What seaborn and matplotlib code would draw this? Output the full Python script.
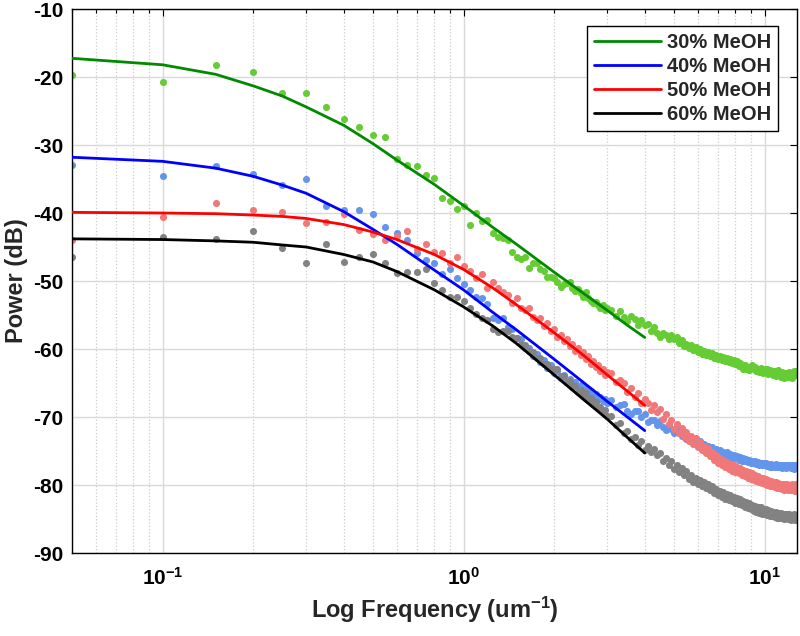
"""
Power spectra of MeOH mixtures: measured points with their fitted curves.
"""
import numpy as np
import matplotlib
matplotlib.use("Agg")
import matplotlib.pyplot as plt
from matplotlib.ticker import LogLocator, NullFormatter, MultipleLocator
import seaborn as sns

SERIES = ["30% MeOH", "40% MeOH", "50% MeOH", "60% MeOH"]
LINE_COLORS = ["#008a00", "#0000ff", "#ff0000", "#000000"]
DOT_COLORS = ["#66cc33", "#6495ed", "#f07878", "#828282"]

# frequency bins (um^-1 = bin * 0.05): every bin up to 60, then every other one
FREQ_STEP = 0.05
BINS = list(range(1, 61)) + list(range(62, 257, 2))

POWER_30 = [
    -19.7, -20.8, -18.2, -19.2, -22.3, -22.4, -24.4, -26.1, -27.3, -28.5,
    -28.8, -32.0, -33.0, -33.1, -34.4, -34.8, -37.8, -38.3, -39.4, -38.9,
    -41.7, -40.0, -41.2, -41.1, -43.0, -43.6, -43.7, -44.0, -45.8, -46.4,
    -46.7, -46.4, -48.1, -47.3, -47.4, -48.2, -48.6, -49.4, -49.4, -49.6,
    -50.2, -50.9, -50.5, -50.3, -50.1, -51.0, -51.4, -51.2, -51.8, -52.4,
    -51.6, -52.5, -52.9, -53.3, -53.1, -53.6, -53.9, -53.5, -54.2, -54.0,
    -54.3, -55.1, -54.4, -55.3, -55.9, -55.2, -55.6, -56.4, -55.8, -56.5,
    -56.3, -57.3, -56.8, -57.7, -58.3, -57.6, -57.9, -58.5, -57.9, -58.6,
    -58.2, -59.1, -58.7, -59.5, -59.2, -59.9, -59.4, -60.2, -59.7, -60.5,
    -60.0, -60.8, -60.3, -60.9, -60.4, -61.1, -60.6, -61.3, -60.9, -61.5,
    -61.0, -61.6, -61.2, -61.8, -61.3, -61.9, -61.5, -62.1, -61.6, -62.2,
    -61.8, -62.5, -62.0, -62.6, -62.9, -62.4, -63.0, -62.6, -63.1, -62.8,
    -62.4, -63.0, -62.6, -63.2, -62.9, -63.4, -62.8, -63.3, -63.5, -62.9,
    -63.4, -63.0, -63.7, -63.1, -63.6, -63.2, -63.8, -63.3, -63.9, -63.5,
    -63.1, -63.7, -64.1, -63.4, -63.8, -64.2, -63.5, -64.0, -63.6, -64.1,
    -63.4, -63.9, -64.3, -63.6, -63.2, -63.8, -63.3, -63.7,
]
POWER_40 = [
    -33.0, -34.6, -33.1, -34.2, -35.9, -35.0, -38.9, -39.6, -39.5, -40.1,
    -42.0, -43.0, -44.0, -45.9, -46.9, -47.4, -48.9, -48.3, -49.6, -50.4,
    -51.3, -52.4, -52.5, -53.4, -55.5, -55.7, -55.5, -56.7, -57.0, -58.4,
    -58.6, -59.9, -59.8, -61.1, -60.8, -61.9, -61.6, -62.8, -62.4, -63.6,
    -63.2, -64.3, -63.8, -64.9, -64.4, -65.3, -64.9, -65.8, -65.3, -66.2,
    -65.8, -66.6, -66.2, -67.0, -66.6, -67.4, -67.0, -67.7, -67.3, -68.0,
    -67.5, -68.5, -68.2, -68.1, -69.1, -69.6, -69.1, -69.1, -70.0, -69.5,
    -70.7, -70.4, -70.4, -71.2, -70.6, -71.4, -71.9, -71.3, -71.7, -72.4,
    -71.8, -72.4, -72.8, -72.4, -73.3, -72.9, -73.0, -73.7, -73.2, -73.9,
    -73.6, -74.3, -73.9, -74.5, -74.2, -74.8, -74.4, -75.0, -74.7, -75.3,
    -74.9, -75.5, -75.1, -75.6, -75.2, -75.8, -75.5, -76.0, -75.6, -76.1,
    -75.8, -76.3, -75.9, -76.4, -76.0, -76.5, -76.2, -76.6, -76.3, -76.7,
    -76.4, -76.8, -76.5, -76.9, -76.6, -77.0, -76.7, -77.1, -76.7, -77.1,
    -76.8, -77.2, -76.9, -77.3, -76.9, -77.3, -77.0, -77.4, -76.9, -77.3,
    -77.0, -77.4, -77.1, -77.5, -77.0, -77.4, -77.1, -77.5, -77.0, -77.4,
    -77.1, -77.5, -77.0, -77.3, -77.6, -77.1, -77.4, -77.0,
]
POWER_50 = [
    -43.9, -40.6, -38.5, -39.6, -39.8, -41.5, -41.3, -40.1, -42.5, -43.1,
    -44.0, -43.4, -42.7, -45.3, -44.6, -45.8, -45.9, -47.3, -46.5, -47.8,
    -48.5, -49.5, -48.9, -51.0, -50.1, -51.0, -51.6, -52.1, -53.2, -52.5,
    -53.9, -54.3, -54.0, -55.3, -55.7, -55.4, -56.6, -56.2, -57.4, -57.0,
    -58.3, -57.9, -58.8, -58.5, -59.6, -59.2, -60.3, -59.8, -60.9, -60.5,
    -61.4, -61.0, -62.2, -61.8, -62.6, -62.3, -63.3, -62.9, -63.8, -63.4,
    -63.6, -64.9, -64.5, -65.0, -66.3, -65.7, -67.0, -66.4, -67.9, -67.3,
    -68.0, -68.9, -68.2, -69.3, -68.8, -70.3, -69.6, -71.0, -70.4, -71.7,
    -71.0, -72.3, -71.6, -72.9, -72.2, -73.6, -72.8, -74.0, -73.1, -74.4,
    -73.7, -74.9, -74.2, -75.3, -74.6, -75.8, -75.1, -76.3, -75.6, -76.7,
    -76.0, -77.0, -76.3, -77.3, -76.6, -77.6, -76.9, -77.9, -77.1, -78.1,
    -77.3, -78.3, -77.5, -78.5, -77.8, -78.7, -77.9, -78.9, -78.1, -79.1,
    -78.3, -79.3, -78.5, -79.4, -78.7, -79.6, -78.9, -79.7, -79.0, -79.8,
    -79.1, -80.0, -79.3, -80.1, -79.4, -80.2, -79.5, -80.3, -79.5, -80.4,
    -79.7, -80.5, -79.8, -80.6, -79.8, -80.7, -79.9, -80.6, -79.8, -80.8,
    -80.0, -80.7, -79.9, -80.8, -80.1, -80.9, -79.9, -80.6,
]
POWER_60 = [
    -46.5, -43.5, -43.8, -42.6, -45.1, -47.3, -44.6, -47.2, -46.5, -46.0,
    -47.4, -48.8, -48.7, -48.7, -48.3, -50.3, -51.3, -52.4, -52.3, -52.9,
    -54.0, -54.9, -55.5, -55.7, -57.0, -57.5, -57.3, -57.4, -58.3, -58.4,
    -59.2, -59.4, -60.3, -60.4, -61.3, -61.3, -62.2, -62.2, -63.0, -62.9,
    -63.0, -63.9, -64.0, -64.9, -64.7, -65.6, -65.4, -66.3, -66.0, -66.9,
    -66.5, -67.5, -67.2, -68.1, -67.8, -68.7, -68.5, -69.3, -68.9, -69.8,
    -69.9, -71.2, -70.9, -72.3, -72.0, -73.3, -72.9, -74.1, -73.6, -74.8,
    -74.3, -75.2, -74.7, -75.6, -75.3, -76.4, -76.0, -77.0, -76.5, -77.6,
    -77.0, -78.1, -77.5, -78.6, -78.0, -79.1, -78.5, -79.5, -78.9, -79.9,
    -79.2, -80.2, -79.5, -80.5, -79.8, -80.8, -80.2, -81.2, -80.6, -81.5,
    -80.9, -81.8, -81.1, -82.0, -81.3, -82.2, -81.5, -82.4, -81.7, -82.6,
    -81.9, -82.8, -82.1, -83.0, -82.3, -83.2, -82.5, -83.4, -82.7, -83.6,
    -82.9, -83.8, -83.1, -83.9, -83.2, -84.1, -83.3, -84.2, -83.5, -84.3,
    -83.6, -84.4, -83.7, -84.5, -83.8, -84.6, -83.9, -84.7, -84.0, -84.8,
    -84.1, -84.9, -84.1, -84.9, -84.2, -85.0, -84.2, -84.9, -84.3, -85.0,
    -84.3, -85.1, -84.4, -85.0, -84.3, -85.1, -84.4, -84.8,
]

# fitted curves, read at a few frequencies
FIT_FREQ = [0.05, 0.1, 0.15, 0.2, 0.25, 0.3, 0.4, 0.5, 0.6, 0.8,
            1.0, 1.25, 1.5, 2.0, 2.5, 3.0, 3.5, 4.0]
FIT_30 = [-17.25, -18.2, -19.6, -21.3, -22.8, -24.4, -27.1, -29.8, -32.2, -35.8,
          -38.9, -42.1, -44.6, -48.7, -51.8, -54.3, -56.5, -58.3]
FIT_40 = [-31.8, -32.4, -33.4, -34.6, -35.9, -37.1, -39.8, -42.4, -44.6, -48.4,
          -51.3, -54.6, -57.2, -61.5, -64.9, -67.7, -70.0, -72.0]
FIT_50 = [-39.9, -40.0, -40.1, -40.3, -40.5, -40.8, -41.7, -42.8, -43.9, -46.1,
          -48.3, -51.0, -53.5, -57.6, -60.9, -63.8, -66.2, -68.3]
FIT_60 = [-43.8, -43.9, -44.1, -44.3, -44.7, -45.0, -46.1, -47.2, -48.6, -51.3,
          -53.8, -56.6, -59.2, -63.8, -67.4, -70.3, -73.0, -75.3]

POWERS = [POWER_30, POWER_40, POWER_50, POWER_60]
FITS = [FIT_30, FIT_40, FIT_50, FIT_60]

sns.set_theme(style="white")
plt.rcParams["font.family"] = ["Liberation Sans", "DejaVu Sans"]
plt.rcParams["font.weight"] = "bold"
plt.rcParams["axes.unicode_minus"] = False
plt.rcParams["mathtext.fontset"] = "custom"
plt.rcParams["mathtext.rm"] = "Liberation Sans:bold"
plt.rcParams["mathtext.it"] = "Liberation Sans:bold"
plt.rcParams["mathtext.bf"] = "Liberation Sans:bold"
plt.rcParams["mathtext.default"] = "rm"

freq = np.array(BINS) * FREQ_STEP

fig = plt.figure(figsize=(8, 6.36), dpi=100)
ax = fig.add_axes([0.09, 0.1305, 0.906, 0.8553])

for col, vals in zip(DOT_COLORS, POWERS):
    sns.scatterplot(x=freq, y=vals, color=col, s=26, linewidth=0,
                    ax=ax, zorder=2)

for name, col, fit in zip(SERIES, LINE_COLORS, FITS):
    sns.lineplot(x=FIT_FREQ, y=fit, color=col, linewidth=2.0, label=name,
                 ax=ax, zorder=3)

ax.set_xscale("log")
ax.set_xlim(0.05, 12.8)
ax.set_ylim(-90, -10)
ax.yaxis.set_major_locator(MultipleLocator(10))
ax.xaxis.set_minor_locator(LogLocator(base=10, subs=np.arange(2, 10), numticks=20))
ax.xaxis.set_minor_formatter(NullFormatter())

ax.grid(True, which="major", color="#d9d9d9", linewidth=1.0)
ax.grid(True, which="minor", axis="x", color="#cccccc", linestyle=":", linewidth=0.9)
ax.set_axisbelow(True)

ax.tick_params(which="both", direction="in", top=True, right=True,
               colors="black", width=0.8, labelsize=15)
ax.tick_params(which="major", length=5)
ax.tick_params(which="minor", length=3)
ax.tick_params(axis="x", which="major", pad=10)
ax.tick_params(axis="y", which="major", pad=6)
for sp in ax.spines.values():
    sp.set_color("black")
    sp.set_linewidth(1.0)

ax.set_xlabel("Log Frequency (um$^{-1}$)", fontsize=17, fontweight="bold", labelpad=4)
ax.set_ylabel("Power (dB)", fontsize=17, fontweight="bold", labelpad=4)

leg = ax.legend(loc="upper right", bbox_to_anchor=(0.974, 0.969),
                prop={"weight": "bold", "size": 14.5}, frameon=True,
                fancybox=False, edgecolor="black", framealpha=1,
                handlelength=3.3, handletextpad=0.3, labelspacing=0.25,
                borderpad=0.35, borderaxespad=0)
leg.get_frame().set_linewidth(1.0)

fig.savefig("out.png", dpi=100)
plt.close(fig)
